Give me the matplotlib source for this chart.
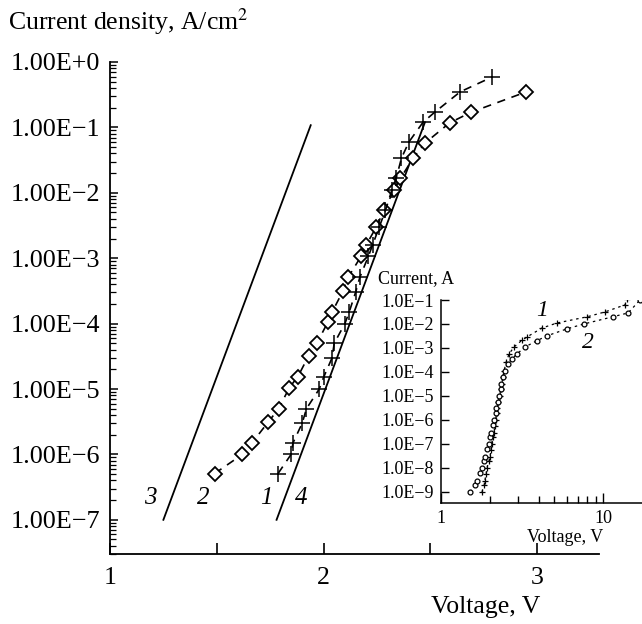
import matplotlib
matplotlib.use("Agg")
import math
import matplotlib.pyplot as plt
from matplotlib.ticker import FixedLocator, LogLocator, NullFormatter, FuncFormatter

plt.rcParams['font.family'] = ['Liberation Serif', 'DejaVu Serif']
plt.rcParams['mathtext.fontset'] = 'stix'

# main plot: curve 2 (diamonds), curve 1 (crosses), straight lines 3 and 4
v_diamond = [1.49, 1.62, 1.665, 1.74, 1.79, 1.84, 1.88, 1.93, 1.97, 2.02, 2.04, 2.09,
             2.115, 2.176, 2.20, 2.246, 2.283, 2.33, 2.36, 2.42, 2.475, 2.59, 2.69, 2.95]
j_diamond = [5.1e-7, 1.0e-6, 1.5e-6, 3.1e-6, 5.0e-6, 1.05e-5, 1.55e-5, 3.2e-5, 5.1e-5,
             1.05e-4, 1.5e-4, 3.1e-4, 5.1e-4, 1.07e-3, 1.6e-3, 2.95e-3, 5.4e-3, 1.1e-2,
             1.66e-2, 3.4e-2, 5.75e-2, 1.17e-1, 1.7e-1, 3.5e-1]

v_cross = [1.787, 1.848, 1.857, 1.90, 1.92, 1.98, 2.00, 2.04, 2.05, 2.10, 2.12, 2.15,
           2.17, 2.21, 2.23, 2.26, 2.29, 2.32, 2.34, 2.365, 2.40, 2.466, 2.52, 2.64, 2.79]
j_cross = [5.1e-7, 1.0e-6, 1.5e-6, 3.0e-6, 5.0e-6, 1.0e-5, 1.5e-5, 3.0e-5, 5.0e-5,
           1.0e-4, 1.5e-4, 3.0e-4, 5.1e-4, 1.07e-3, 1.6e-3, 2.95e-3, 5.4e-3, 1.1e-2,
           1.66e-2, 3.4e-2, 6.0e-2, 1.2e-1, 1.7e-1, 3.5e-1, 5.9e-1]

v_line3 = [1.25, 1.94]
j_line3 = [1e-7, 1.08e-1]
v_line4 = [1.78, 2.475]
j_line4 = [1e-7, 1.2e-1]

# inset: current vs voltage (log-log)
vi_cross = [1.79, 1.85, 1.86, 1.90, 1.92, 1.98, 2.00, 2.04, 2.05, 2.10, 2.12, 2.15,
            2.17, 2.21, 2.23, 2.26, 2.30, 2.34, 2.37, 2.41, 2.45, 2.52, 2.63, 2.82,
            3.16, 3.4, 4.2, 5.2, 8.0, 10.3, 13.7, 14.0]
ii_cross = [1.0e-9, 2.0e-9, 2.8e-9, 5.6e-9, 1.0e-8, 2.0e-8, 2.8e-8, 5.6e-8, 1.0e-7,
            2.0e-7, 2.8e-7, 5.6e-7, 1.0e-6, 2.0e-6, 3.2e-6, 5.6e-6, 1.0e-5, 2.0e-5,
            3.2e-5, 6.3e-5, 1.1e-4, 2.5e-4, 5.6e-4, 1.1e-3, 2.1e-3, 2.9e-3, 6.8e-3,
            1.1e-2, 2.0e-2, 3.2e-2, 6.3e-2, 1.1e-1]

vi_circle = [1.51, 1.62, 1.66, 1.74, 1.79, 1.84, 1.88, 1.93, 1.97, 2.02, 2.04, 2.09,
             2.12, 2.18, 2.20, 2.25, 2.28, 2.33, 2.36, 2.42, 2.48, 2.59, 2.74, 2.94,
             3.3, 3.9, 4.5, 6.0, 7.6, 11.5, 14.3, 16.9]
ii_circle = [1.0e-9, 2.0e-9, 2.8e-9, 6.3e-9, 1.0e-8, 2.0e-8, 2.8e-8, 6.3e-8, 1.0e-7,
             2.0e-7, 2.8e-7, 6.3e-7, 1.0e-6, 2.0e-6, 3.2e-6, 5.6e-6, 1.0e-5, 2.0e-5,
             3.2e-5, 6.3e-5, 1.1e-4, 2.2e-4, 3.5e-4, 5.6e-4, 1.1e-3, 2.0e-3, 3.2e-3,
             6.3e-3, 1.0e-2, 2.0e-2, 2.9e-2, 1.0e-1]

W, H = 642, 624
fig = plt.figure(figsize=(W / 100, H / 100), dpi=100)


def fx(px):
    return px / W


def fy(py):
    return 1 - py / H


ax = fig.add_axes([fx(110), fy(554), fx(599) - fx(110), fy(62) - fy(554)])
ax.set_yscale('log')
ax.set_xlim(1, 3.29)
ax.set_ylim(3.0e-8, 1.0)
for s in ['top', 'right']:
    ax.spines[s].set_visible(False)
for s in ['left', 'bottom']:
    ax.spines[s].set_linewidth(1.3)

ax.plot(v_line3, j_line3, color='black', lw=1.3)
ax.plot(v_line4, j_line4, color='black', lw=1.3)
ax.plot(v_diamond, j_diamond, color='black', lw=1.2, dashes=(5, 4), marker='D',
        markersize=7, markerfacecolor='white', markeredgewidth=1.3)
ax.plot(v_cross, j_cross, color='black', lw=1.2, dashes=(5, 4), marker='+',
        markersize=11, markeredgewidth=1.1)

ax.xaxis.set_major_locator(FixedLocator([1, 2, 3]))
ax.xaxis.set_minor_locator(FixedLocator([1.5, 2.5]))
ax.xaxis.set_minor_formatter(NullFormatter())
ax.yaxis.set_major_locator(FixedLocator([10.0 ** k for k in range(-7, 1)]))
ax.yaxis.set_minor_locator(LogLocator(base=10, subs=range(2, 10), numticks=20))
ax.yaxis.set_minor_formatter(NullFormatter())


def main_fmt(y, pos):
    k = int(round(math.log10(y)))
    if k >= 0:
        return '1.00E+%d' % k
    return '1.00E\u2212%d' % (-k)


ax.yaxis.set_major_formatter(FuncFormatter(main_fmt))
ax.tick_params(axis='x', which='both', direction='in', length=8, width=1.2,
               labelsize=18.5, pad=9)
ax.tick_params(axis='y', which='major', direction='in', length=6, width=1.1,
               labelsize=18.8, pad=7)
ax.tick_params(axis='y', which='minor', direction='in', length=4, width=0.9)

fig.text(fx(8), fy(30), 'Current density, A/cm$^2$', fontsize=18.5, va='baseline')
fig.text(fx(486), fy(607), 'Voltage, V', fontsize=18.5, ha='center', va='center')

for lab, px in [('3', 150), ('2', 203), ('1', 266), ('4', 301)]:
    fig.text(fx(px), fy(498), lab, fontsize=18, style='italic', ha='center', va='center')

# inset
ax2 = fig.add_axes([fx(441), fy(503), fx(642) - fx(441), fy(300) - fy(503)])
ax2.set_facecolor('none')
ax2.set_xscale('log')
ax2.set_yscale('log')
ax2.set_xlim(1, 17.4)
ax2.set_ylim(10 ** -9.46, 1e-1)
for s in ['top', 'right']:
    ax2.spines[s].set_visible(False)
for s in ['left', 'bottom']:
    ax2.spines[s].set_linewidth(1.1)

ax2.plot(vi_cross, ii_cross, color='black', lw=0.9, dashes=(2, 3), marker='+',
         markersize=5, markeredgewidth=0.9)
ax2.plot(vi_circle, ii_circle, color='black', lw=0.9, dashes=(2, 3), marker='o',
         markersize=3.5, markerfacecolor='white', markeredgewidth=0.9)

ax2.xaxis.set_major_locator(FixedLocator([1, 10]))
ax2.xaxis.set_major_formatter(FuncFormatter(lambda x, p: '%d' % round(x)))
ax2.xaxis.set_minor_locator(LogLocator(base=10, subs=range(2, 10), numticks=10))
ax2.xaxis.set_minor_formatter(NullFormatter())
ax2.yaxis.set_major_locator(FixedLocator([10.0 ** k for k in range(-9, 0)]))
ax2.yaxis.set_minor_locator(FixedLocator([]))
ax2.yaxis.set_major_formatter(FuncFormatter(lambda y, p: '1.0E\u2212%d' % round(-math.log10(y))))
ax2.tick_params(axis='x', which='major', direction='in', length=7, width=1.0,
                labelsize=13, pad=5)
ax2.tick_params(axis='x', which='minor', direction='in', length=5, width=1.0)
ax2.tick_params(axis='y', which='major', direction='in', length=6, width=1.0,
                labelsize=13, pad=5)

fig.text(fx(378), fy(279), 'Current, A', fontsize=13, va='center')
fig.text(fx(565), fy(537), 'Voltage, V', fontsize=13, ha='center', va='center')
fig.text(fx(542), fy(310), '1', fontsize=17, style='italic', ha='center', va='center')
fig.text(fx(588), fy(342), '2', fontsize=17, style='italic', ha='center', va='center')

fig.savefig('out.png', dpi=100)
